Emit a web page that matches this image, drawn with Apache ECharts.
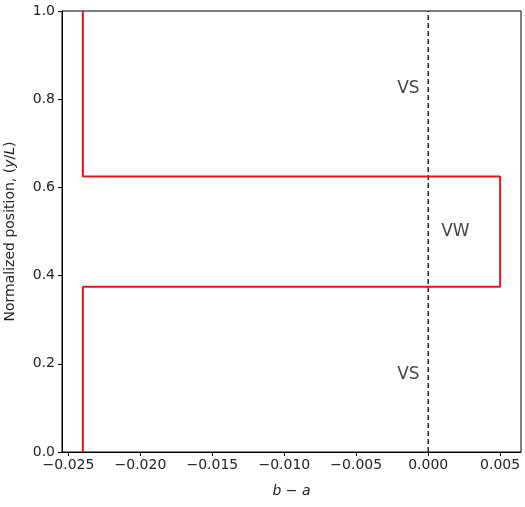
<!DOCTYPE html>
<html>
<head>
<meta charset="utf-8">
<script src="https://cdn.jsdelivr.net/npm/echarts@6/dist/echarts.min.js"></script>
<style>
  html, body { margin: 0; padding: 0; background: #fff; }
  #chart { width: 525px; height: 507px; }
</style>
</head>
<body>
<div id="chart"></div>
<script>
// step profile of b - a along the normalized position
const profileX = [-0.024, -0.024, 0.005, 0.005, -0.024, -0.024]
const profileY = [0, 0.375, 0.375, 0.625, 0.625, 1.0]
const refLineX = [0, 0]
const refLineY = [0, 1]
const zoneNames = ['VS', 'VW', 'VS']
const zoneX = [-0.0006, 0.0009, -0.0006]
const zoneY = [0.825, 0.5, 0.175]
const xTicks = [-0.025, -0.020, -0.015, -0.010, -0.005, 0.000, 0.005]

const font = 'DejaVu Sans'
const fmtX = v => (v < 0 ? '\u2212' : '') + Math.abs(v).toFixed(3)
const italic = { fontStyle: 'italic', fontFamily: font, fontSize: 14, color: '#222' }

const chart = echarts.init(document.getElementById('chart'))
chart.setOption({
  animation: false,
  grid: {
    left: 62, right: 4, top: 11, bottom: 55,
    outerBoundsMode: 'none',
    containLabel: false,
    show: true, borderColor: '#000', borderWidth: 1
  },
  xAxis: {
    type: 'value',
    min: -0.02545,
    max: 0.00645,
    splitLine: { show: false },
    axisLine: { onZero: false, lineStyle: { color: '#000' } },
    axisTick: { customValues: xTicks, length: 4, lineStyle: { color: '#000' } },
    axisLabel: {
      customValues: xTicks,
      formatter: fmtX,
      color: '#222', fontFamily: font, fontSize: 14, margin: 6
    },
    name: '{i|b} \u2212 {i|a}',
    nameLocation: 'middle',
    nameGap: 32,
    nameTextStyle: { color: '#222', fontFamily: font, fontSize: 14, rich: { i: italic } }
  },
  yAxis: {
    type: 'value',
    min: 0,
    max: 1,
    interval: 0.2,
    splitLine: { show: false },
    axisLine: { show: true, onZero: false, lineStyle: { color: '#000' } },
    axisTick: { show: true, length: 4, lineStyle: { color: '#000' } },
    axisLabel: {
      formatter: v => v.toFixed(1),
      color: '#222', fontFamily: font, fontSize: 14, margin: 7
    },
    name: 'Normalized position, ({i|y}/{i|L})',
    nameLocation: 'middle',
    nameGap: 45,
    nameTextStyle: { color: '#222', fontFamily: font, fontSize: 14, rich: { i: italic } }
  },
  series: [
    {
      type: 'line',
      data: refLineX.map((x, i) => [x, refLineY[i]]),
      symbol: 'none',
      lineStyle: { color: '#000', width: 1.3, type: [5, 3] },
      z: 1
    },
    {
      type: 'line',
      data: profileX.map((x, i) => [x, profileY[i]]),
      symbol: 'none',
      lineStyle: { color: '#e8141b', width: 2 },
      z: 2
    },
    {
      type: 'scatter',
      symbolSize: 0,
      silent: true,
      z: 3,
      data: zoneNames.map((n, i) => ({
        name: n,
        value: [zoneX[i], zoneY[i]],
        label: { align: n === 'VW' ? 'left' : 'right' }
      })),
      label: {
        show: true,
        formatter: p => p.name,
        position: 'inside',
        verticalAlign: 'middle',
        color: '#111',
        fontFamily: font,
        fontSize: 17
      }
    }
  ]
})
</script>
</body>
</html>
